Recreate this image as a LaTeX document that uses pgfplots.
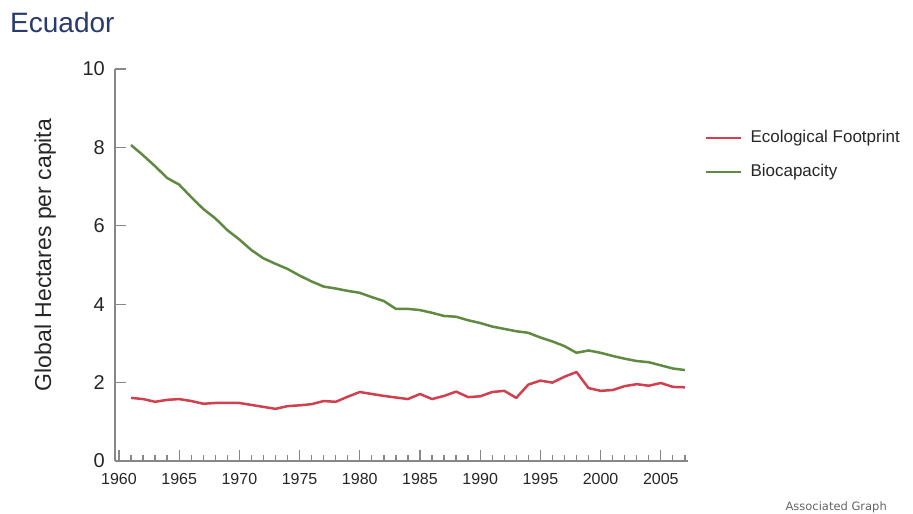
\documentclass[border=0pt]{standalone}
\usepackage{fontspec}
\setmainfont{Liberation Sans}
\newfontfamily\dejavu{DejaVu Sans}
\usepackage{pgfplots}
\pgfplotsset{compat=1.18}
\definecolor{fpred}{RGB}{208,64,78}
\definecolor{biogreen}{RGB}{96,138,66}
\definecolor{axgray}{RGB}{135,135,135}
\definecolor{titleblue}{RGB}{40,58,110}
\definecolor{footgray}{RGB}{100,100,100}
\begin{document}
\begin{tikzpicture}[x=1pt,y=1pt]
\path[use as bounding box] (0,0) rectangle (913,514);
\node[anchor=base west, inner sep=0pt, font=\fontsize{28}{30}\selectfont, text=titleblue] at (10,481) {Ecuador};
\node[anchor=east, inner sep=0pt, font=\dejavu\fontsize{11.5}{13}\selectfont, text=footgray] at (887,7) {Associated Graph};
\begin{axis}[
  at={(115pt,53pt)}, anchor=south west,
  scale only axis, width=573pt, height=392pt,
  xmin=1959.67, xmax=2007.26, ymin=0, ymax=10,
  axis x line*=bottom, axis y line*=left,
  separate axis lines,
  every outer x axis line/.append style={axgray, line width=1.8pt},
  every outer y axis line/.append style={axgray, line width=1.8pt},
  tick align=inside,
  xtick={1960,1965,...,2005},
  minor xtick={1961,1962,1963,1964,1966,1967,1968,1969,1971,1972,1973,1974,1976,1977,1978,1979,1981,1982,1983,1984,1986,1987,1988,1989,1991,1992,1993,1994,1996,1997,1998,1999,2001,2002,2003,2004,2006,2007},
  ytick={0,2,...,10},
  major tick length=11pt, minor tick length=6pt,
  xtick style={draw=axgray, line width=1.3pt},
  ytick style={draw=axgray, line width=1.3pt},
  minor tick style={draw=axgray!70, line width=1pt},
  /pgf/number format/assume math mode=true,
  /pgf/number format/1000 sep={},
  xticklabel style={font=\fontsize{16}{18}\selectfont, inner sep=0pt, yshift=-12pt, text=black!85},
  yticklabel style={font=\fontsize{20}{22}\selectfont, inner sep=0pt, xshift=-10pt, text=black!85},
  ylabel={Global Hectares per capita},
  ylabel style={font=\fontsize{23}{25}\selectfont, at={(axis description cs:-0.122,0.5255)}, anchor=center, text=black!85},
  legend style={at={(axis description cs:1.0297,0.7806)}, anchor=west, draw=none, fill=none,
    inner sep=0pt, outer sep=0pt, row sep=17pt, font=\fontsize{17}{20}\selectfont,
    nodes={inner sep=0pt, text height=13pt, text depth=4pt, text=black!85},
    /tikz/every odd column/.append style={column sep=8pt}},
  legend cell align=left,
  legend image code/.code={\draw[#1, line width=2.5pt] (0pt,0pt) -- (35pt,0pt);},
  clip=false,
]
\addplot[fpred, line width=2.5pt, line join=round] coordinates {
(1961,1.61) (1962,1.58) (1963,1.51) (1964,1.56) (1965,1.58) (1966,1.53) (1967,1.46) (1968,1.48)
(1969,1.48) (1970,1.48) (1971,1.43) (1972,1.38) (1973,1.33) (1974,1.40) (1975,1.42) (1976,1.45)
(1977,1.53) (1978,1.51) (1979,1.64) (1980,1.76) (1981,1.71) (1982,1.66) (1983,1.62) (1984,1.58)
(1985,1.71) (1986,1.58) (1987,1.66) (1988,1.77) (1989,1.63) (1990,1.65) (1991,1.76) (1992,1.79)
(1993,1.61) (1994,1.95) (1995,2.05) (1996,2.00) (1997,2.15) (1998,2.27) (1999,1.86) (2000,1.79)
(2001,1.81) (2002,1.91) (2003,1.96) (2004,1.92) (2005,1.99) (2006,1.89) (2007,1.88)
};
\addlegendentry{Ecological Footprint}
\addplot[biogreen, line width=2.5pt, line join=round] coordinates {
(1961,8.06) (1962,7.80) (1963,7.52) (1964,7.22) (1965,7.05) (1966,6.73) (1967,6.43) (1968,6.19)
(1969,5.89) (1970,5.65) (1971,5.38) (1972,5.17) (1973,5.03) (1974,4.90) (1975,4.73) (1976,4.58)
(1977,4.45) (1978,4.40) (1979,4.34) (1980,4.29) (1981,4.18) (1982,4.08) (1983,3.88) (1984,3.88)
(1985,3.85) (1986,3.78) (1987,3.70) (1988,3.68) (1989,3.59) (1990,3.52) (1991,3.43) (1992,3.37)
(1993,3.31) (1994,3.27) (1995,3.15) (1996,3.05) (1997,2.93) (1998,2.76) (1999,2.82) (2000,2.76)
(2001,2.68) (2002,2.61) (2003,2.55) (2004,2.52) (2005,2.44) (2006,2.36) (2007,2.32)
};
\addlegendentry{Biocapacity}
\end{axis}
\end{tikzpicture}
\end{document}
